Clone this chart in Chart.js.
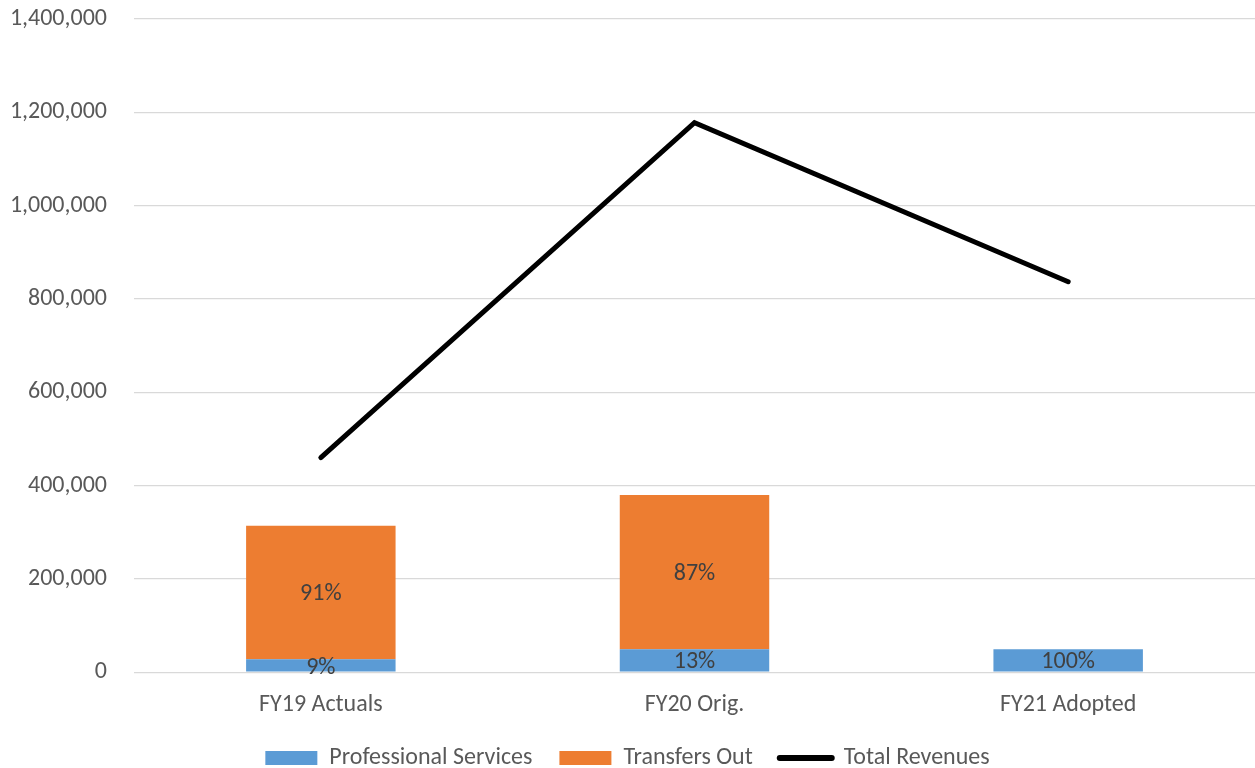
<!DOCTYPE html>
<html>
<head>
<meta charset="utf-8">
<title>Expenditures and Revenues</title>
<script src="https://cdn.jsdelivr.net/npm/chart.js@4/dist/chart.umd.min.js"></script>
<style>
  html, body { margin: 0; padding: 0; background: #ffffff; }
  #wrap { width: 1255px; height: 768px; }
</style>
</head>
<body>
<div id="wrap"><canvas id="chart" width="1255" height="768"></canvas></div>
<script>
// Fiscal years shown on the x axis
const categories = ['FY19 Actuals', 'FY20 Orig.', 'FY21 Adopted'];

// Expenditure components (stacked bars)
const professionalServices = [28000, 49000, 49000];
const transfersOut = [286000, 331000, 0];

// Revenue total (line)
const totalRevenues = [460000, 1178000, 837000];

// Value axis ticks
const yTicks = [0, 200000, 400000, 600000, 800000, 1000000, 1200000, 1400000];

const FONT = 'Carlito, Lato, "Liberation Sans", sans-serif';
const FONT_SIZE = 24;

// Writes each bar's share of its stacked column in the middle of the bar
const shareLabels = {
  id: 'shareLabels',
  afterDatasetsDraw(chart) {
    const ctx = chart.ctx;
    const barSets = chart.data.datasets
      .map((ds, i) => ({ ds, i }))
      .filter(o => o.ds.type === 'bar');
    ctx.save();
    ctx.font = FONT_SIZE + 'px ' + FONT;
    ctx.fillStyle = '#404040';
    ctx.textAlign = 'center';
    ctx.textBaseline = 'middle';
    barSets.forEach(({ ds, i }) => {
      const meta = chart.getDatasetMeta(i);
      meta.data.forEach((bar, j) => {
        const v = ds.data[j];
        if (!v) return;
        const total = barSets.reduce((s, o) => s + (o.ds.data[j] || 0), 0);
        const pct = Math.round(v / total * 100) + '%';
        const props = bar.getProps(['x', 'y', 'base'], true);
        const shift = (props.base - props.y) < 20 ? 3 : 2;
        ctx.fillText(pct, props.x, (props.y + props.base) / 2 + shift);
      });
    });
    ctx.restore();
  }
};

new Chart(document.getElementById('chart'), {
  data: {
    labels: categories,
    datasets: [
      {
        type: 'bar',
        label: 'Professional Services',
        data: professionalServices,
        backgroundColor: '#5b9bd5',
        borderWidth: 0,
        stack: 'spend',
        categoryPercentage: 1,
        barPercentage: 0.4
      },
      {
        type: 'bar',
        label: 'Transfers Out',
        data: transfersOut,
        backgroundColor: '#ed7d31',
        borderWidth: 0,
        stack: 'spend',
        categoryPercentage: 1,
        barPercentage: 0.4
      },
      {
        type: 'line',
        label: 'Total Revenues',
        data: totalRevenues,
        borderColor: '#000000',
        backgroundColor: '#000000',
        borderWidth: 5,
        borderCapStyle: 'round',
        borderJoinStyle: 'miter',
        pointRadius: 0,
        pointHoverRadius: 0,
        tension: 0,
        fill: false,
        stack: 'revenue'
      }
    ]
  },
  options: {
    responsive: false,
    devicePixelRatio: 1,
    animation: false,
    layout: { padding: { top: 19, right: 0, bottom: -12, left: 0 } },
    scales: {
      x: {
        stacked: true,
        grid: { display: false, drawTicks: false },
        border: { display: false },
        afterFit(scale) { scale.height -= 18; },
        ticks: { color: '#595959', font: { family: FONT, size: FONT_SIZE }, padding: 18 }
      },
      y: {
        stacked: true,
        min: 0,
        max: 1400000,
        afterBuildTicks(scale) { scale.ticks = yTicks.map(v => ({ value: v })); },
        afterFit(scale) {
          scale.width = 134;
          scale.paddingTop = 0;
          scale.paddingBottom = 0;
        },
        grid: { color: '#d9d9d9', lineWidth: 1.3, drawTicks: false },
        border: { display: false },
        ticks: {
          color: '#595959',
          font: { family: FONT, size: FONT_SIZE },
          padding: 27,
          callback: v => v.toLocaleString('en-US')
        }
      }
    },
    plugins: {
      legend: {
        position: 'bottom',
        labels: {
          color: '#595959',
          font: { family: FONT, size: FONT_SIZE },
          usePointStyle: true,
          pointStyleWidth: 52,
          boxHeight: 14,
          padding: 27,
          sort: (a, b) => a.datasetIndex - b.datasetIndex,
          generateLabels(chart) {
            return chart.data.datasets.map((ds, i) => ({
              text: ds.label,
              datasetIndex: i,
              fillStyle: ds.type === 'line' ? ds.borderColor : ds.backgroundColor,
              strokeStyle: ds.type === 'line' ? ds.borderColor : ds.backgroundColor,
              lineWidth: ds.type === 'line' ? 6 : 0,
              lineCap: 'round',
              pointStyle: ds.type === 'line' ? 'line' : 'rect',
              fontColor: '#595959',
              hidden: false
            }));
          }
        }
      },
      tooltip: { enabled: false }
    }
  },
  plugins: [shareLabels]
});
</script>
</body>
</html>
